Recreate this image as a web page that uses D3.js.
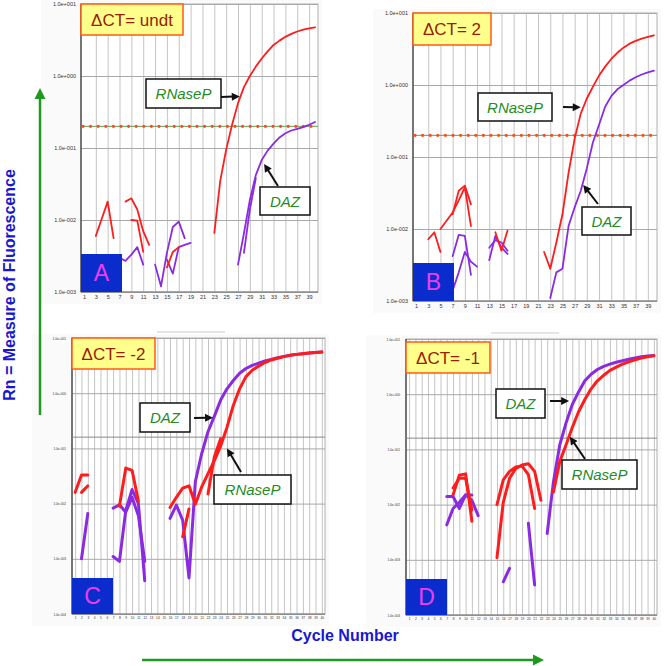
<!DOCTYPE html>
<html>
<head>
<meta charset="utf-8">
<script src="https://cdn.jsdelivr.net/npm/d3@7"></script>
<style>
  body { margin: 0; background: #fff; font-family: Arial, "Liberation Sans", sans-serif; }
</style>
</head>
<body>
<script>
// ---- data (cycle, Rn) ----
const cyclesSparse = d3.range(1, 40, 2);
const cyclesDense = d3.range(1, 41);
const decadesAB = [0.001, 0.01, 0.1, 1, 10];
const decadesCD = [0.0001, 0.001, 0.01, 0.1, 1, 10];
const threshold = 0.2;
const ctLabels = ["\u0394CT= undt", "\u0394CT= 2", "\u0394CT= -2", "\u0394CT= -1"];
const panelLetters = ["A", "B", "C", "D"];
const geneNames = ["RNaseP", "DAZ"];

const aRed = [
  [[3,0.006],[5,0.018],[6,0.0056]],
  [[8,0.018],[9,0.02],[10,0.014],[11,0.007],[12,0.0045]],
  [[9,0.01],[10,0.0098],[11,0.0036]],
  [[15,0.0022],[16,0.0036],[17,0.0042]],
  [[23,0.0066],[24,0.035],[25,0.095],[26,0.21],[27,0.42],[28,0.7],[29,1.0],[30,1.35],[31,1.75],[32,2.2],[33,2.7],[34,3.1],[35,3.5],[36,3.85],[37,4.15],[38,4.4],[39,4.6],[40,4.75]]
];
const aPurple = [
  [[7,0.003],[8,0.0027],[9,0.0033],[10,0.0042],[11,0.0024]],
  [[13,0.0024],[14,0.0012],[15,0.0035],[16,0.008],[17,0.0095],[18,0.0056]],
  [[15,0.0028],[16,0.0018],[17,0.0042],[18,0.0045],[19,0.0048]],
  [[27,0.0024],[28,0.0065],[29,0.019],[30,0.042],[31,0.068],[32,0.092],[33,0.115],[34,0.14],[35,0.16],[36,0.175],[37,0.185],[38,0.195],[39,0.21],[40,0.23]],
  [[28,0.0035],[29,0.014],[30,0.038]]
];
const bRed = [
  [[3,0.0072],[4,0.009],[5,0.0048]],
  [[5,0.01],[6,0.013],[7,0.017],[8,0.025],[9,0.038],[10,0.011]],
  [[7,0.016],[8,0.034],[9,0.04],[10,0.022]],
  [[14,0.009],[15,0.005],[16,0.0095]],
  [[22,0.0048],[23,0.0028],[24,0.0065],[25,0.016],[26,0.06],[27,0.18],[28,0.4],[29,0.65],[30,0.95],[31,1.35],[32,1.8],[33,2.3],[34,2.8],[35,3.3],[36,3.75],[37,4.1],[38,4.4],[39,4.65],[40,4.9]]
];
const bPurple = [
  [[7,0.0014],[8,0.0025],[9,0.0048],[10,0.0035],[11,0.003]],
  [[7,0.0042],[8,0.0083],[9,0.008],[10,0.0023]],
  [[13,0.0037],[14,0.008],[15,0.0055],[16,0.0045]],
  [[13,0.0055],[14,0.007],[15,0.0065],[16,0.005]],
  [[23,0.0011],[24,0.0025],[25,0.0028],[26,0.011],[27,0.02],[28,0.034],[29,0.07],[30,0.16],[31,0.28],[32,0.5],[33,0.7],[34,0.87],[35,1.0],[36,1.15],[37,1.28],[38,1.4],[39,1.5],[40,1.58]]
];
const cRed = [
  [[1,0.016],[2,0.033],[3,0.033]],
  [[2,0.016],[3,0.021]],
  [[8,0.009],[9,0.044],[10,0.04],[11,0.011]],
  [[18,0.0025],[19,0.008]],
  [[16,0.0085],[17,0.013],[18,0.019],[19,0.021],[20,0.0097],[21,0.02],[22,0.035],[23,0.06],[24,0.11],[25,0.24],[26,0.6],[27,1.2],[28,2.0],[29,2.6],[30,3.1],[31,3.6],[32,4.0],[33,4.3],[34,4.6],[35,4.85],[36,5.05],[37,5.2],[38,5.35],[39,5.45],[40,5.55]],
  [[22,0.015],[23,0.07],[24,0.15]]
];
const cPurple = [
  [[2,0.001],[3,0.0066]],
  [[7,0.0011],[8,0.0009],[9,0.0075],[10,0.018],[11,0.01],[12,0.0004]],
  [[7,0.0083],[8,0.0095],[9,0.007],[10,0.013],[11,0.006],[12,0.0009]],
  [[16,0.0054],[17,0.0094],[18,0.005],[19,0.00045],[20,0.025],[21,0.08],[22,0.2],[23,0.38],[24,0.75],[25,1.2],[26,1.7],[27,2.3],[28,2.8],[29,3.2],[30,3.5],[31,3.85],[32,4.1],[33,4.4],[34,4.65],[35,4.85],[36,5.05],[37,5.2],[38,5.35],[39,5.45],[40,5.55]]
];
const dRed = [
  [[8,0.015],[9,0.034],[10,0.036],[11,0.005]],
  [[8,0.02],[9,0.03],[10,0.03],[11,0.008]],
  [[15,0.0011],[16,0.011],[17,0.03],[18,0.045],[19,0.052],[20,0.055],[21,0.04],[22,0.012]],
  [[15,0.01],[16,0.028],[17,0.04],[18,0.048],[19,0.05],[20,0.035],[21,0.0085]],
  [[24,0.017],[25,0.06],[26,0.12],[27,0.25],[28,0.48],[29,0.8],[30,1.25],[31,1.75],[32,2.2],[33,2.7],[34,3.1],[35,3.5],[36,3.85],[37,4.2],[38,4.5],[39,4.75],[40,4.95]]
];
const dPurple = [
  [[7,0.0043],[8,0.0085],[9,0.011],[10,0.015],[11,0.012],[12,0.0063]],
  [[7,0.014],[8,0.014],[9,0.0085],[10,0.015],[11,0.015]],
  [[16,0.0004],[17,0.0007]],
  [[20,0.0046],[21,0.00035]],
  [[23,0.003],[24,0.026],[25,0.12],[26,0.3],[27,0.65],[28,1.1],[29,1.75],[30,2.3],[31,2.8],[32,3.2],[33,3.5],[34,3.8],[35,4.05],[36,4.3],[37,4.55],[38,4.75],[39,4.9],[40,5.0]]
];
// where the label arrows point: [cycle, Rn] for RNaseP then DAZ
const arrowTargets = [
  [[27.3,0.52],[31.4,0.06]],
  [[28.0,0.49],[28.4,0.041]],
  [[25.0,0.1],[22.8,0.36]],
  [[26.6,0.17],[26.5,0.75]]
];

// ---- layout ----
const W = 664, H = 666;
const red = "#ff1c1c", purple = "#8a2be2", green = "#1f9a1f";

const panels = [
  {x0:81, x1:318, y0:4, y1:292, yd:decadesAB, red:aRed, purple:aPurple, thr:true, lw:1.8,
   ctW:102, ctH:31, boxes:[[146,79,75,29,221,97],[260,187,50,28,278,186]]},
  {x0:413, x1:657, y0:13, y1:301, yd:decadesAB, red:bRed, purple:bPurple, thr:true, lw:1.8,
   ctW:78, ctH:32, boxes:[[478,93,74,28,563,107],[582,207,49,28,598,204]]},
  {x0:72, x1:325, y0:338, y1:614, yd:decadesCD, red:cRed, purple:cPurple, thr:false, lw:3,
   ctW:83, ctH:31, boxes:[[214,475,77,29,241,472],[140,403,50,29,194,418]]},
  {x0:406, x1:657, y0:339, y1:615, yd:decadesCD, red:dRed, purple:dPurple, thr:false, lw:3,
   ctW:84, ctH:31, boxes:[[562,460,75,29,585,459],[496,389,49,29,550,401]]}
];

const svg = d3.select("body").append("svg")
  .attr("width", W).attr("height", H);

function sci(v) {
  const e = Math.round(Math.log10(v));
  return "1.0e" + (e < 0 ? "-" : "+") + String(Math.abs(e)).padStart(3, "0");
}

function head(g, x1, y1, x2, y2, len, hw, col) {
  const a = Math.atan2(y2 - y1, x2 - x1);
  const bx = x2 - len * Math.cos(a), by = y2 - len * Math.sin(a);
  const px = -Math.sin(a) * hw, py = Math.cos(a) * hw;
  g.append("polygon")
    .attr("points", `${x2},${y2} ${bx+px},${by+py} ${bx-px},${by-py}`)
    .attr("fill", col);
}

panels.forEach((p, i) => {
  const dense = !p.thr;
  const x = d3.scaleLinear().domain([0.5, 40.5]).range([p.x0, p.x1]);
  const y = d3.scaleLog().domain([p.yd[0], p.yd[p.yd.length - 1]]).range([p.y1, p.y0]);
  const g = svg.append("g");
  const w = p.x1 - p.x0, h = p.y1 - p.y0;

  g.append("rect").attr("x", p.x0 - 40).attr("y", p.y0 - 4).attr("width", w + 44).attr("height", h + 16)
    .attr("fill", "#fafafa");
  g.append("rect").attr("x", p.x0).attr("y", p.y0).attr("width", w).attr("height", h)
    .attr("fill", "#fff").attr("stroke", "#b0b0b0");

  // vertical grid
  g.append("g").attr("transform", `translate(0,${p.y1})`)
    .call(d3.axisBottom(x).tickValues(dense ? cyclesDense : cyclesSparse.slice(1)).tickSize(-h).tickFormat(""))
    .call(s => { s.select(".domain").remove(); s.selectAll("line").attr("stroke", "#c4c4c4").attr("stroke-width", 1); });
  // horizontal grid
  g.append("g").attr("transform", `translate(${p.x0},0)`)
    .call(d3.axisLeft(y).tickValues(p.yd).tickSize(-w).tickFormat(""))
    .call(s => { s.select(".domain").remove(); s.selectAll("line").attr("stroke", "#a8a8a8").attr("stroke-width", 1); });

  // tick labels
  g.append("g").attr("transform", `translate(0,${p.y1})`)
    .call(d3.axisBottom(x).tickValues(dense ? cyclesDense : cyclesSparse).tickSize(0).tickPadding(3))
    .call(s => {
      s.select(".domain").remove();
      s.selectAll("text").attr("font-size", dense ? 3.2 : 5.5).attr("fill", "#333").attr("font-family", "Arial");
    });
  g.append("g").attr("transform", `translate(${p.x0},0)`)
    .call(d3.axisLeft(y).tickValues(p.yd).tickFormat(sci).tickSize(0).tickPadding(dense ? 6 : 5))
    .call(s => {
      s.select(".domain").remove();
      s.selectAll("text").attr("font-size", dense ? 3.2 : 5.5).attr("fill", "#333").attr("font-family", "Arial");
    });

  g.append("line").attr("x1", p.x0).attr("x2", p.x0).attr("y1", p.y0).attr("y2", p.y1)
    .attr("stroke", "#555").attr("stroke-width", 1.5);
  g.append("line").attr("x1", p.x0).attr("x2", p.x1).attr("y1", p.y1).attr("y2", p.y1)
    .attr("stroke", "#777").attr("stroke-width", 1.2);

  if (dense) {
    g.append("line").attr("x1", p.x0).attr("x2", p.x1).attr("y1", y(0.16)).attr("y2", y(0.16))
      .attr("stroke", "#888").attr("stroke-width", 1);
    g.append("line").attr("x1", p.x0 + 85).attr("x2", p.x0 + 153).attr("y1", p.y0 - 6).attr("y2", p.y0 - 6)
      .attr("stroke", "#c8c8c8").attr("stroke-width", 1);
  }

  const clipId = "clip" + i;
  svg.append("clipPath").attr("id", clipId).append("rect")
    .attr("x", p.x0).attr("y", p.y0).attr("width", w).attr("height", h);

  if (p.thr) {
    g.append("line").attr("x1", p.x0).attr("x2", p.x1).attr("y1", y(threshold)).attr("y2", y(threshold))
      .attr("stroke", "#5aa05a").attr("stroke-width", 1);
    g.append("line").attr("x1", p.x0 + 2).attr("x2", p.x1).attr("y1", y(threshold)).attr("y2", y(threshold))
      .attr("stroke", "#ff4a1a").attr("stroke-width", 3.2)
      .attr("stroke-linecap", "round").attr("stroke-dasharray", "0 7.6");
  }

  const line = d3.line().x(d => x(d[0])).y(d => y(d[1])).defined(d => d[1] > 0);
  const lines = g.append("g").attr("clip-path", `url(#${clipId})`)
    .attr("fill", "none").attr("stroke-linejoin", "round").attr("stroke-linecap", "round");
  lines.selectAll(".pu").data(p.purple).join("path").attr("class", "pu")
    .attr("d", line).attr("stroke", purple).attr("stroke-width", p.lw);
  lines.selectAll(".rd").data(p.red).join("path").attr("class", "rd")
    .attr("d", line).attr("stroke", red).attr("stroke-width", p.lw);

  // ΔCT box
  const ctTop = p.y0 + (i === 3 ? 3 : 0);
  g.append("rect").attr("x", p.x0).attr("y", ctTop).attr("width", p.ctW).attr("height", p.ctH)
    .attr("fill", "#ffff8c").attr("stroke", "#ff5a14").attr("stroke-width", 1.5);
  g.append("text").attr("x", p.x0 + p.ctW / 2).attr("y", ctTop + p.ctH / 2 + 6)
    .attr("text-anchor", "middle").attr("font-size", 17).attr("fill", "#9a1c00")
    .text(ctLabels[i]);

  // letter box
  const lh = dense ? 36 : 38;
  g.append("rect").attr("x", p.x0).attr("y", p.y1 - lh).attr("width", 41).attr("height", lh)
    .attr("fill", "#0a2ccc");
  g.append("text").attr("x", p.x0 + 20.5).attr("y", p.y1 - lh / 2 + 8)
    .attr("text-anchor", "middle").attr("font-size", 23).attr("fill", "#f03cf0")
    .text(panelLetters[i]);

  // gene labels with arrows
  p.boxes.forEach((b, k) => {
    const t = arrowTargets[i][k];
    const tx = x(t[0]), ty = y(t[1]);
    g.append("rect").attr("x", b[0]).attr("y", b[1]).attr("width", b[2]).attr("height", b[3])
      .attr("fill", "#fff").attr("stroke", "#111").attr("stroke-width", 1.5);
    g.append("text").attr("x", b[0] + b[2] / 2).attr("y", b[1] + b[3] / 2 + 5.5)
      .attr("text-anchor", "middle").attr("font-size", 15).attr("font-style", "italic")
      .attr("fill", "#238c23").text(geneNames[k]);
    const a = Math.atan2(ty - b[5], tx - b[4]);
    g.append("line").attr("x1", b[4]).attr("y1", b[5])
      .attr("x2", tx - 6 * Math.cos(a)).attr("y2", ty - 6 * Math.sin(a))
      .attr("stroke", "#111").attr("stroke-width", 2);
    head(g, b[4], b[5], tx, ty, 8, 4, "#111");
  });
});

// axis titles with green arrows
const deco = svg.append("g");
deco.append("line").attr("x1", 40).attr("x2", 40).attr("y1", 415).attr("y2", 97)
  .attr("stroke", green).attr("stroke-width", 2.5);
head(deco, 40, 415, 40, 88, 11, 5.5, green);
deco.append("line").attr("x1", 142).attr("x2", 534).attr("y1", 660).attr("y2", 660)
  .attr("stroke", green).attr("stroke-width", 2.5);
head(deco, 142, 660, 544, 660, 11, 5.5, green);

deco.append("text").attr("transform", "translate(15,285) rotate(-90)")
  .attr("text-anchor", "middle").attr("font-size", 16).attr("font-weight", "bold")
  .attr("fill", "#1818d0").text("Rn = Measure of Fluorescence");
deco.append("text").attr("x", 345).attr("y", 641)
  .attr("text-anchor", "middle").attr("font-size", 16).attr("font-weight", "bold")
  .attr("fill", "#1818d0").text("Cycle Number");
</script>
</body>
</html>
